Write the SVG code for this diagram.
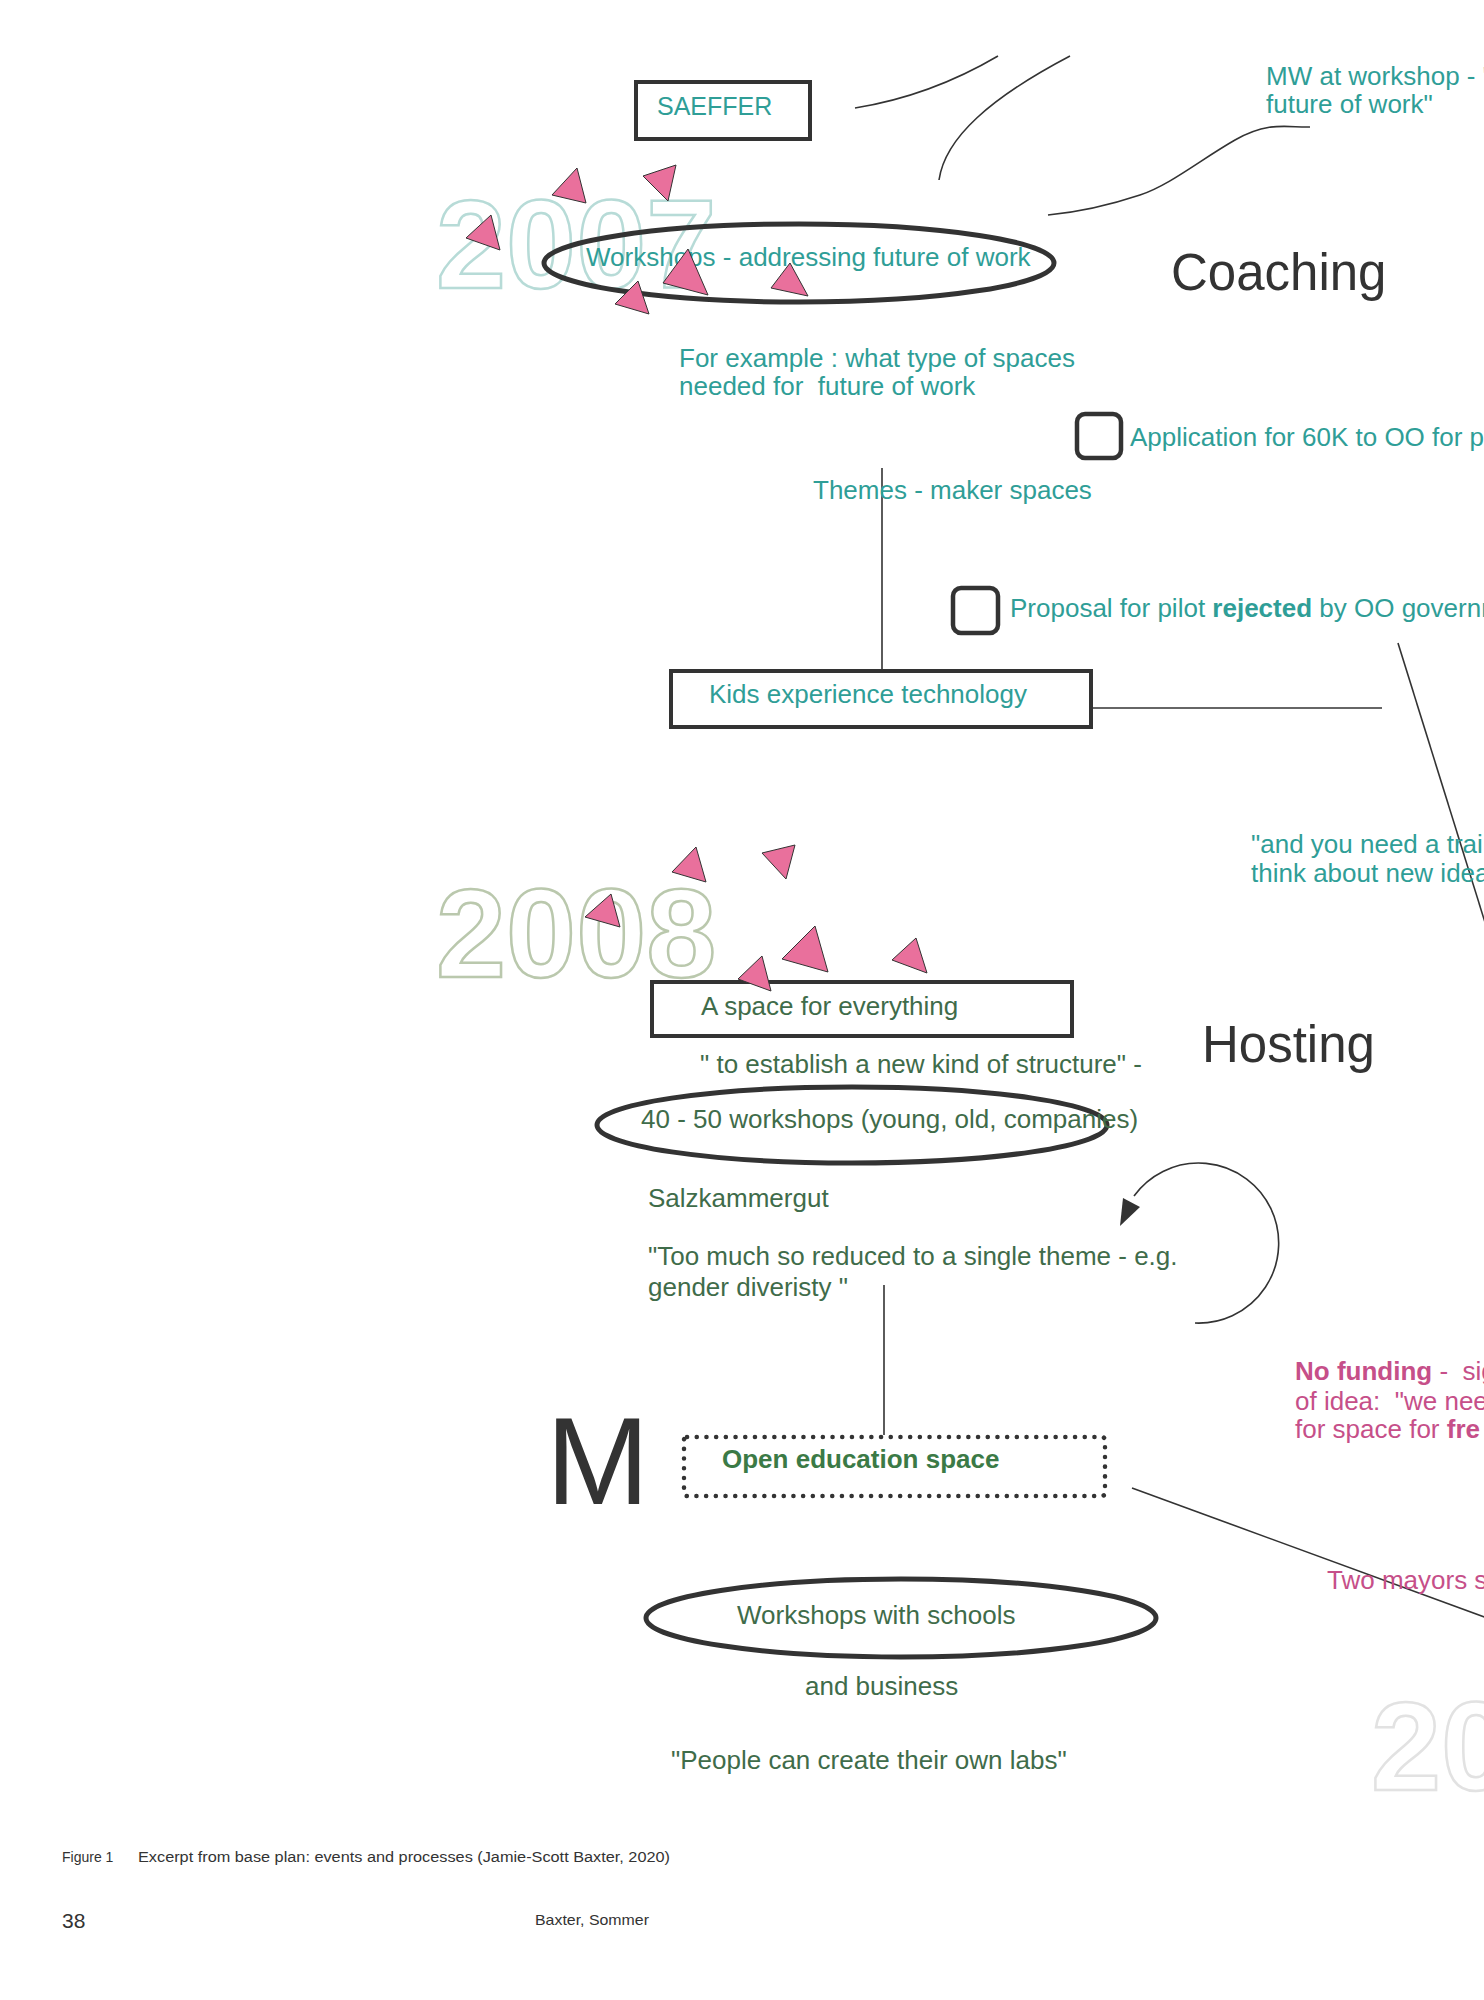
<svg xmlns="http://www.w3.org/2000/svg" width="1484" height="2000" viewBox="0 0 1484 2000">
<style>
text{font-family:"Liberation Sans",Arial,Helvetica,sans-serif;font-size:26px;white-space:pre}
.teal{fill:#2f9e97}
.green{fill:#3f6c4a}
.pink{fill:#c64f89}
.dark{fill:#333}
.big{font-size:51px;fill:#333}
.box{fill:#fff;stroke:#333;stroke-width:4}
.chk{fill:none;stroke:#333;stroke-width:4.5}
.ell{fill:none;stroke:#333;stroke-width:5}
.line{fill:none;stroke:#333;stroke-width:1.6}
.tri{fill:#e9709c;stroke:#333;stroke-width:1}
.year{font-weight:bold;font-size:126px;fill:none;stroke-width:2.5}
.cap{font-size:14px;fill:#333}
</style>
<rect width="1484" height="2000" fill="#fff"/>

<g id="year-2007"><text class="year" x="436" y="288" stroke="#b7dbd7">2007</text></g>
<g id="year-2008"><text class="year" x="436" y="977" stroke="#bac8ad">2008</text></g>
<g id="year-20xx"><text class="year" x="1371" y="1790" stroke="#e2e2e2">20</text></g>

<g id="connectors">
<path class="line" d="M855 108 Q930 96 998 56"/>
<path class="line" d="M939 180 C945 138 990 98 1070 56"/>
<path class="line" d="M1048 215 C1080 212 1110 205 1140 195 S1200 160 1235 140 S1290 128 1310 127"/>
<line class="line" x1="882" y1="468" x2="882" y2="669"/>
<line class="line" x1="1093" y1="708" x2="1382" y2="708"/>
<line class="line" x1="1398" y1="643" x2="1488" y2="932"/>
<line class="line" x1="884" y1="1285" x2="884" y2="1435"/>
<line class="line" x1="1132" y1="1488" x2="1490" y2="1619"/>
<path class="line" d="M1195 1323 A80 80 0 1 0 1134 1196"/>
<polygon points="1120,1226 1123,1198 1140,1207" fill="#333"/>
</g>

<g id="saeffer">
<rect class="box" x="636" y="82" width="174" height="57"/>
<text class="teal" x="657" y="115" style="font-size:25px">SAEFFER</text>
</g>
<g id="mw-workshop">
<text class="teal" x="1266" y="85">MW at workshop - "</text>
<text class="teal" x="1266" y="113">future of work"</text>
</g>
<g id="workshops-future">
<ellipse class="ell" cx="799" cy="263" rx="255" ry="39"/>
<text class="teal" x="586" y="266">Workshops - addressing future of work</text>
</g>
<g id="coaching"><text class="big" x="1171" y="290">Coaching</text></g>
<g id="for-example">
<text class="teal" x="679" y="367">For example : what type of spaces</text>
<text class="teal" x="679" y="395">needed for  future of work</text>
</g>
<g id="application">
<rect class="chk" x="1077" y="414" width="44" height="44" rx="8"/>
<text class="teal" x="1130" y="446">Application for 60K to OO for p</text>
</g>
<g id="themes"><text class="teal" x="813" y="499">Themes - maker spaces</text></g>
<g id="proposal">
<rect class="chk" x="953" y="588" width="45" height="45" rx="8"/>
<text class="teal" x="1010" y="617">Proposal for pilot <tspan font-weight="bold">rejected</tspan> by OO governm</text>
</g>
<g id="kids">
<rect class="box" x="671" y="671" width="420" height="56"/>
<text class="teal" x="709" y="703">Kids experience technology</text>
</g>
<g id="trainer-quote">
<text class="teal" x="1251" y="853">"and you need a trai</text>
<text class="teal" x="1251" y="882">think about new idea</text>
</g>

<g id="space-everything">
<rect class="box" x="652" y="982" width="420" height="54"/>
<text class="green" x="701" y="1015">A space for everything</text>
</g>
<g id="structure-quote"><text class="green" x="700" y="1073">" to establish a new kind of structure" -</text></g>
<g id="hosting"><text class="big" x="1202" y="1062">Hosting</text></g>
<g id="workshops-40-50">
<ellipse class="ell" cx="852" cy="1125" rx="255" ry="38"/>
<text class="green" x="641" y="1128">40 - 50 workshops (young, old, companies)</text>
</g>
<g id="salzkammergut"><text class="green" x="648" y="1207">Salzkammergut</text></g>
<g id="too-much">
<text class="green" x="648" y="1265">"Too much so reduced to a single theme - e.g.</text>
<text class="green" x="648" y="1296">gender diveristy "</text>
</g>
<g id="no-funding">
<text class="pink" x="1295" y="1380"><tspan font-weight="bold">No funding</tspan> -  sig</text>
<text class="pink" x="1295" y="1410">of idea:  "we nee</text>
<text class="pink" x="1295" y="1438">for space for <tspan font-weight="bold">fre</tspan></text>
</g>
<g id="m-letter"><text x="546" y="1504" style="font-size:124px;fill:#333">M</text></g>
<g id="open-education">
<rect x="684" y="1437" width="421" height="59" rx="3" fill="none" stroke="#333" stroke-width="4.5" stroke-dasharray="0.1 9.6" stroke-linecap="round"/>
<text x="722" y="1468" style="font-weight:bold;fill:#3b7a46">Open education space</text>
</g>
<g id="two-mayors"><text class="pink" x="1327" y="1589">Two mayors s</text></g>
<g id="workshops-schools">
<ellipse class="ell" cx="901" cy="1618" rx="255" ry="39"/>
<text class="green" x="737" y="1624">Workshops with schools</text>
</g>
<g id="and-business"><text class="green" x="805" y="1695">and business</text></g>
<g id="own-labs"><text class="green" x="671" y="1769">"People can create their own labs"</text></g>

<g id="triangles">
<polygon class="tri" points="552,195 577,168 586,203"/>
<polygon class="tri" points="643,176 676,165 668,201"/>
<polygon class="tri" points="491,215 466,238 500,250"/>
<polygon class="tri" points="688,249 663,283 708,295"/>
<polygon class="tri" points="790,263 771,288 808,296"/>
<polygon class="tri" points="638,281 615,304 649,314"/>
<polygon class="tri" points="672,872 696,847 706,882"/>
<polygon class="tri" points="762,853 795,845 786,879"/>
<polygon class="tri" points="585,917 611,894 620,927"/>
<polygon class="tri" points="782,959 815,926 828,972"/>
<polygon class="tri" points="892,960 916,938 927,973"/>
<polygon class="tri" points="738,979 762,956 771,991"/>
</g>

<g id="caption">
<text class="cap" x="62" y="1862">Figure 1</text>
<text class="cap" x="138" y="1862" textLength="532" lengthAdjust="spacingAndGlyphs">Excerpt from base plan: events and processes (Jamie-Scott Baxter, 2020)</text>
<text x="62" y="1928" style="font-size:21px;fill:#333">38</text>
<text class="cap" x="535" y="1925" style="font-size:15px" textLength="114" lengthAdjust="spacingAndGlyphs">Baxter, Sommer</text>
</g>
</svg>
